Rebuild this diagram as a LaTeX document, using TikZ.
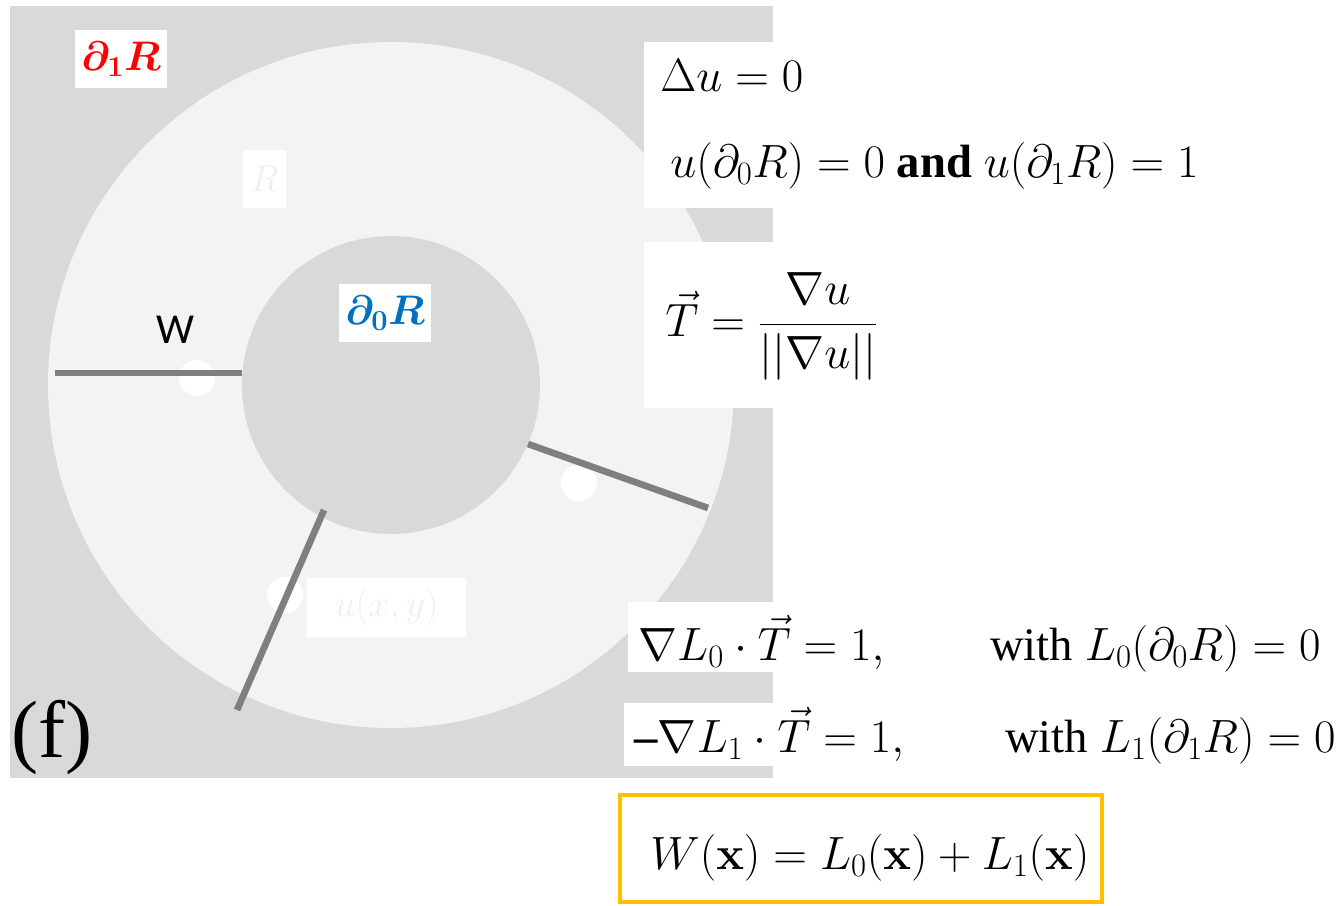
\RequirePackage{fix-cm}
\documentclass[tikz,border=0pt]{standalone}
\usepackage{amsmath}
\usepackage[no-math]{fontspec}
\setmainfont{Liberation Serif}
\newfontfamily\carlito{Carlito}
\usetikzlibrary{positioning}

\definecolor{fondo}{RGB}{217,217,217}
\definecolor{anillo}{RGB}{243,243,243}
\definecolor{trazo}{RGB}{127,127,127}
\definecolor{azul}{RGB}{0,112,192}
\definecolor{naranja}{RGB}{255,192,0}

\tikzset{
	ecuacion/.style={anchor=base west, inner sep=0pt, font=\fontsize{35}{42}\selectfont},
	etiqueta/.style={fill=white, inner sep=0pt, minimum width=69pt, minimum height=43.5pt, font=\fontsize{31}{36}\selectfont},
	oculto/.style={fill=white, inner sep=0pt, text=white!94!black, font=\fontsize{28}{32}\selectfont},
	corte/.style={draw=trazo, line width=5pt},
	punto/.style={circle, fill=white, minimum size=27pt, inner sep=0pt},
}

\begin{document}
\begin{tikzpicture}[x=0.75pt, y=-0.75pt]
\useasboundingbox (0,0) rectangle (1342,906);

% Region
\fill[fondo] (10,6) rectangle (773,778);
\coordinate (c) at (391,385);
\fill[anillo] (c) circle[radius=343];
\fill[fondo] (c) circle[radius=149];

% Fondos blancos de las ecuaciones
\fill[white] (644,42) rectangle (773,208);
\fill[white] (644,242) rectangle (773,408);
\fill[white] (628,602) rectangle (773,672);
\fill[white] (624,703) rectangle (773,766);

\node[oculto, minimum width=32pt, minimum height=43.5pt] (r) at (264.5,179) {$R$};
\node[oculto, minimum width=119pt, minimum height=44pt] (uxy) at (386.5,607.5) {$u(x,y)$};

% Puntos y cortes
\foreach \x/\y [count=\i] in {197/378, 579/483, 285/595}
	\node[punto] (p\i) at (\x,\y) {};

\foreach \xa/\ya/\xb/\yb [count=\i] in {242/373/55/373, 528/444/708/508, 324/510/237/710}
	\draw[corte] (\xa,\ya) coordinate (a\i) -- (\xb,\yb) coordinate (b\i);

% Etiquetas
\node[etiqueta, text=red] (d1) at (121,59) {$\boldsymbol{\partial_1 R}$};
\node[etiqueta, text=azul] (d0) at (385,313) {$\boldsymbol{\partial_0 R}$};
\node[inner sep=0pt, font=\carlito\fontsize{32}{38}\selectfont] (w) at (175,330) {W};
\node[anchor=base west, inner sep=0pt, font=\fontsize{61}{66}\selectfont] (f) at (11,757) {(f)};

% Ecuaciones
\node[ecuacion] (lap) at (660,92) {$\Delta u = 0$};
\node[ecuacion] (bc) at (670,177) {$u(\partial_0 R) = 0$ \textbf{and} $u(\partial_1 R) = 1$};
\node[ecuacion] (T) at (665,336) {$\vec{T} = \dfrac{\nabla u}{||\nabla u||}$};
\node[ecuacion] (L0) at (638,660) {$\nabla L_0 \cdot \vec{T} = 1,$};
\node[ecuacion] (c0) at (990,660) {with $L_0(\partial_0 R) = 0$};
\node[ecuacion] (L1) at (634,752) {\textbf{--}$\nabla L_1 \cdot \vec{T} = 1,$};
\node[ecuacion] (c1) at (1005,752) {with $L_1(\partial_1 R) = 0$};
\node[ecuacion] (W) at (650,869) {$W(\mathbf{x}) = L_0(\mathbf{x}) + L_1(\mathbf{x})$};
\draw[naranja, line width=3pt] (620,795) rectangle (1102,902);

\end{tikzpicture}
\end{document}
